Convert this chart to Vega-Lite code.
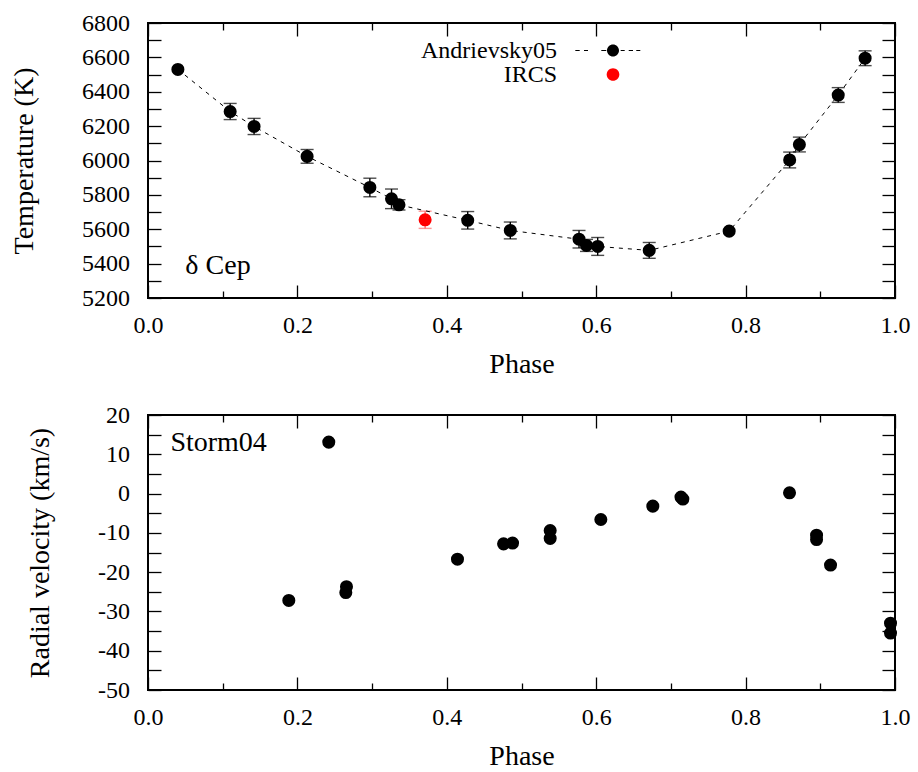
{
  "$schema": "https://vega.github.io/schema/vega-lite/v6.json",
  "padding": {"left": 9, "top": 10, "right": 20, "bottom": 4},
  "spacing": 22,
  "config": {
    "font": "Liberation Serif",
    "view": {"stroke": "black", "strokeWidth": 2},
    "axis": {
      "domain": false, "grid": false,
      "labelFont": "Liberation Serif", "labelFontSize": 24, "labelColor": "black",
      "titleFont": "Liberation Serif", "titleFontSize": 28, "titleFontWeight": "normal", "titleColor": "black",
      "tickColor": "black", "tickWidth": 1.3, "labelFlush": false, "labelOverlap": false
    }
  },
  "datasets": {
    "temp": [
      {"phase": 0.040, "T": 6530, "err": null, "src": "Andrievsky05"},
      {"phase": 0.110, "T": 6285, "err": 47, "src": "Andrievsky05"},
      {"phase": 0.142, "T": 6198, "err": 47, "src": "Andrievsky05"},
      {"phase": 0.213, "T": 6024, "err": 40, "src": "Andrievsky05"},
      {"phase": 0.297, "T": 5843, "err": 54, "src": "Andrievsky05"},
      {"phase": 0.326, "T": 5777, "err": 57, "src": "Andrievsky05"},
      {"phase": 0.336, "T": 5742, "err": 30, "src": "Andrievsky05"},
      {"phase": 0.428, "T": 5652, "err": 51, "src": "Andrievsky05"},
      {"phase": 0.485, "T": 5593, "err": 49, "src": "Andrievsky05"},
      {"phase": 0.577, "T": 5542, "err": 51, "src": "Andrievsky05"},
      {"phase": 0.587, "T": 5506, "err": 35, "src": "Andrievsky05"},
      {"phase": 0.602, "T": 5500, "err": 52, "src": "Andrievsky05"},
      {"phase": 0.671, "T": 5477, "err": 46, "src": "Andrievsky05"},
      {"phase": 0.778, "T": 5589, "err": null, "src": "Andrievsky05"},
      {"phase": 0.859, "T": 6003, "err": 46, "src": "Andrievsky05"},
      {"phase": 0.872, "T": 6093, "err": 43, "src": "Andrievsky05"},
      {"phase": 0.924, "T": 6381, "err": 43, "src": "Andrievsky05"},
      {"phase": 0.960, "T": 6595, "err": 43, "src": "Andrievsky05"},
      {"phase": 0.371, "T": 5655, "err": 50, "src": "IRCS"}
    ],
    "rv": [
      {"phase": 0.1885, "V": -27.2},
      {"phase": 0.2420, "V": 13.1},
      {"phase": 0.2648, "V": -25.2},
      {"phase": 0.2657, "V": -23.7},
      {"phase": 0.4143, "V": -16.7},
      {"phase": 0.4760, "V": -12.8},
      {"phase": 0.4880, "V": -12.6},
      {"phase": 0.5384, "V": -9.4},
      {"phase": 0.5384, "V": -11.4},
      {"phase": 0.6062, "V": -6.6},
      {"phase": 0.6758, "V": -3.2},
      {"phase": 0.7135, "V": -0.9},
      {"phase": 0.7160, "V": -1.4},
      {"phase": 0.8588, "V": 0.2},
      {"phase": 0.8950, "V": -10.6},
      {"phase": 0.8950, "V": -11.7},
      {"phase": 0.9137, "V": -18.2},
      {"phase": 0.9940, "V": -33.0},
      {"phase": 0.9940, "V": -35.5}
    ]
  },
  "vconcat": [
    {
      "width": 747, "height": 275,
      "data": {"name": "temp"},
      "resolve": {"axis": {"x": "independent", "y": "independent"}},
      "layer": [
        {
          "transform": [{"filter": "datum.err != null"}],
          "mark": {"type": "errorbar", "ticks": {"size": 13, "thickness": 1.4}, "thickness": 1.4},
          "encoding": {
            "x": {"field": "phase", "type": "quantitative", "scale": {"domain": [0, 1], "nice": false}, "axis": null},
            "y": {"field": "T", "type": "quantitative", "scale": {"domain": [5200, 6800], "nice": false, "zero": false}, "axis": null},
            "yError": {"field": "err"},
            "color": {"condition": {"test": "datum.src == 'IRCS'", "value": "#ff6a6a"}, "value": "black"}
          }
        },
        {
          "transform": [{"filter": "datum.src == 'Andrievsky05'"}],
          "mark": {"type": "line", "color": "black", "strokeWidth": 1, "strokeDash": [4, 5]},
          "encoding": {
            "x": {"field": "phase", "type": "quantitative", "scale": {"domain": [0, 1], "nice": false},
                  "axis": {"orient": "bottom", "values": [0.1, 0.3, 0.5, 0.7, 0.9], "labels": false, "tickSize": -7, "title": null}},
            "y": {"field": "T", "type": "quantitative", "scale": {"domain": [5200, 6800], "nice": false, "zero": false},
                  "axis": {"orient": "right", "values": [5200,5300,5400,5500,5600,5700,5800,5900,6000,6100,6200,6300,6400,6500,6600,6700,6800], "labels": false, "tickSize": -13, "title": null}}
          }
        },
        {
          "mark": {"type": "point", "filled": true, "size": 170, "opacity": 1},
          "encoding": {
            "x": {"field": "phase", "type": "quantitative", "scale": {"domain": [0, 1], "nice": false},
                  "axis": {"orient": "bottom", "values": [0, 0.2, 0.4, 0.6, 0.8, 1], "format": ".1f", "tickSize": -13, "labelPadding": 28.5, "title": "Phase", "titlePadding": 13}},
            "y": {"field": "T", "type": "quantitative", "scale": {"domain": [5200, 6800], "nice": false, "zero": false},
                  "axis": {"orient": "left", "values": [5200,5300,5400,5500,5600,5700,5800,5900,6000,6100,6200,6300,6400,6500,6600,6700,6800], "labelExpr": "datum.value % 200 == 0 ? '' + datum.value : ''", "tickSize": -13, "labelPadding": 31.5, "title": "Temperature (K)", "titlePadding": 43}},
            "color": {"field": "src", "type": "nominal", "scale": {"domain": ["Andrievsky05", "IRCS"], "range": ["black", "#ff0000"]},
                      "legend": {"orient": "none", "legendX": 453, "legendY": 15.5, "title": null, "labelAlign": "right", "labelOffset": -68, "symbolSize": 144, "symbolStrokeWidth": 0, "symbolOpacity": 1, "labelFontSize": 24, "labelFont": "Liberation Serif", "labelColor": "black", "rowPadding": -1.5, "padding": 0, "labelLimit": 400}}
          }
        },
        {
          "transform": [{"filter": "false"}],
          "mark": {"type": "point", "filled": true, "opacity": 1},
          "encoding": {
            "x": {"field": "phase", "type": "quantitative", "scale": {"domain": [0, 1], "nice": false},
                  "axis": {"orient": "top", "values": [0, 0.2, 0.4, 0.6, 0.8, 1], "labels": false, "tickSize": -13, "title": null}},
            "y": {"field": "T", "type": "quantitative", "scale": {"domain": [5200, 6800], "nice": false, "zero": false}, "axis": null},
            "color": {"field": "src", "type": "nominal", "scale": {"domain": ["Andrievsky05", "IRCS"], "range": ["black", "#ff0000"]},
                      "legend": {"orient": "none", "legendX": 453, "legendY": 15.5, "title": null, "labelAlign": "right", "labelOffset": -68, "symbolSize": 144, "symbolStrokeWidth": 0, "symbolOpacity": 1, "labelFontSize": 24, "labelFont": "Liberation Serif", "labelColor": "black", "rowPadding": -1.5, "padding": 0, "labelLimit": 400}},
            "shape": {"field": "src", "type": "nominal",
                      "scale": {"domain": ["Andrievsky05", "IRCS"], "range": [
                        "M-6.28,-0.1H-5.55V0.1H-6.28Z M-4.83,-0.1H-4.17V0.1H-4.83Z M-1.95,-0.1H-1.12V0.1H-1.95Z M1.28,-0.1H1.95V0.1H1.28Z M2.62,-0.1H3.33V0.1H2.62Z M3.88,-0.1H4.55V0.1H3.88Z M-1,0A1,1 0 1,0 1,0A1,1 0 1,0 -1,0Z",
                        "M-1.05,0A1.05,1.05 0 1,0 1.05,0A1.05,1.05 0 1,0 -1.05,0Z"]},
                      "legend": {"orient": "none", "legendX": 453, "legendY": 15.5, "title": null, "labelAlign": "right", "labelOffset": -68, "symbolSize": 144, "symbolStrokeWidth": 0, "symbolOpacity": 1, "labelFontSize": 24, "labelFont": "Liberation Serif", "labelColor": "black", "rowPadding": -1.5, "padding": 0, "labelLimit": 400}}
          }
        },
        {
          "data": {"values": [{"label": "δ Cep"}]},
          "mark": {"type": "text", "align": "left", "baseline": "middle", "fontSize": 28, "font": "Liberation Serif", "color": "black"},
          "encoding": {
            "x": {"datum": 0.05, "type": "quantitative", "scale": {"domain": [0, 1], "nice": false},
                  "axis": {"orient": "top", "values": [0.1, 0.3, 0.5, 0.7, 0.9], "labels": false, "tickSize": -7, "title": null}},
            "y": {"datum": 5385, "type": "quantitative", "scale": {"domain": [5200, 6800], "nice": false, "zero": false}, "axis": null},
            "text": {"field": "label"}
          }
        }
      ]
    },
    {
      "width": 747, "height": 275,
      "data": {"name": "rv"},
      "resolve": {"axis": {"x": "independent", "y": "independent"}},
      "layer": [
        {
          "mark": {"type": "point", "filled": true, "size": 170, "opacity": 1, "color": "black"},
          "encoding": {
            "x": {"field": "phase", "type": "quantitative", "scale": {"domain": [0, 1], "nice": false},
                  "axis": {"orient": "bottom", "values": [0, 0.2, 0.4, 0.6, 0.8, 1], "format": ".1f", "tickSize": -13, "labelPadding": 28.5, "title": "Phase", "titlePadding": 13}},
            "y": {"field": "V", "type": "quantitative", "scale": {"domain": [-50, 20], "nice": false, "zero": false},
                  "axis": {"orient": "left", "values": [-50,-45,-40,-35,-30,-25,-20,-15,-10,-5,0,5,10,15,20], "labelExpr": "datum.value % 10 == 0 ? '' + datum.value : ''", "tickSize": -13, "labelPadding": 31.5, "title": "Radial velocity (km/s)", "titlePadding": 43}}
          }
        },
        {
          "data": {"values": [{"label": "Storm04"}]},
          "mark": {"type": "text", "align": "left", "baseline": "middle", "fontSize": 28, "font": "Liberation Serif", "color": "black"},
          "encoding": {
            "x": {"datum": 0.03, "type": "quantitative", "scale": {"domain": [0, 1], "nice": false},
                  "axis": {"orient": "bottom", "values": [0.1, 0.3, 0.5, 0.7, 0.9], "labels": false, "tickSize": -7, "title": null}},
            "y": {"datum": 12.8, "type": "quantitative", "scale": {"domain": [-50, 20], "nice": false, "zero": false},
                  "axis": {"orient": "right", "values": [-50,-45,-40,-35,-30,-25,-20,-15,-10,-5,0,5,10,15,20], "labels": false, "tickSize": -13, "title": null}},
            "text": {"field": "label"}
          }
        },
        {
          "transform": [{"filter": "false"}],
          "mark": {"type": "point", "filled": true},
          "encoding": {
            "x": {"field": "phase", "type": "quantitative", "scale": {"domain": [0, 1], "nice": false},
                  "axis": {"orient": "top", "values": [0, 0.2, 0.4, 0.6, 0.8, 1], "labels": false, "tickSize": -13, "title": null}},
            "y": {"field": "V", "type": "quantitative", "scale": {"domain": [-50, 20], "nice": false, "zero": false}, "axis": null}
          }
        },
        {
          "transform": [{"filter": "false"}],
          "mark": {"type": "point", "filled": true},
          "encoding": {
            "x": {"field": "phase", "type": "quantitative", "scale": {"domain": [0, 1], "nice": false},
                  "axis": {"orient": "top", "values": [0.1, 0.3, 0.5, 0.7, 0.9], "labels": false, "tickSize": -7, "title": null}},
            "y": {"field": "V", "type": "quantitative", "scale": {"domain": [-50, 20], "nice": false, "zero": false}, "axis": null}
          }
        }
      ]
    }
  ]
}
